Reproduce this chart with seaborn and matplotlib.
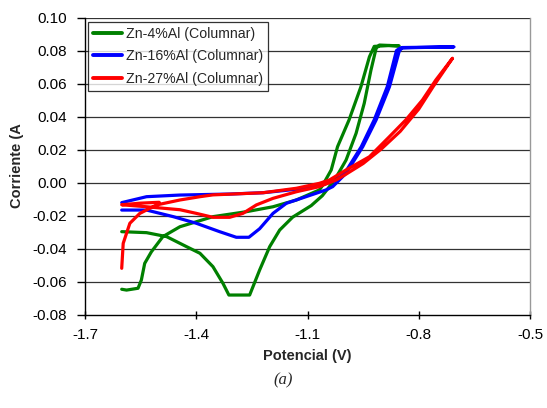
import numpy as np
import pandas as pd
import matplotlib
matplotlib.use("Agg")
import matplotlib.pyplot as plt
import seaborn as sns

labels = ["Zn-4%Al (Columnar)", "Zn-16%Al (Columnar)", "Zn-27%Al (Columnar)"]
colors = ["#008000", "#0000FF", "#FF0000"]

v_zn4 = [-1.601, -1.534, -1.48, -1.426, -1.39, -1.355, -1.328, -1.312, -1.256, -1.229, -1.202, -1.175,
         -1.14, -1.09, -1.06, -1.027, -0.996, -0.969, -0.947, -0.929, -0.915, -0.906, -0.853,
         -0.88, -0.92, -0.933, -0.956, -0.988, -1.019, -1.036, -1.06, -1.068, -1.13, -1.193, -1.265,
         -1.355, -1.40, -1.444, -1.49, -1.521, -1.539, -1.548, -1.557, -1.588, -1.601]
i_zn4 = [-0.0298, -0.0304, -0.0328, -0.0389, -0.0429, -0.051, -0.0611, -0.0682, -0.0682, -0.053, -0.0389, -0.0288,
         -0.021, -0.014, -0.008, 0.0015, 0.0136, 0.0298, 0.048, 0.068, 0.0813, 0.0833, 0.0828,
         0.0830, 0.0825, 0.0762, 0.058, 0.0379, 0.0217, 0.0076, -0.002, -0.0045, -0.0106, -0.0147, -0.0177,
         -0.0207, -0.0238, -0.0268, -0.0328, -0.042, -0.049, -0.0591, -0.0641, -0.0652, -0.0647]

v_zn16 = [-1.601, -1.534, -1.462, -1.40, -1.337, -1.292, -1.258, -1.229, -1.193, -1.157, -1.104, -1.05,
          -1.032, -0.996, -0.951, -0.915, -0.879, -0.853, -0.845, -0.705,
          -0.80, -0.85, -0.86, -0.885, -0.92, -0.955, -1.0, -1.023, -1.068, -1.13, -1.22, -1.31,
          -1.444, -1.534, -1.601]
i_zn16 = [-0.0167, -0.0167, -0.0207, -0.0247, -0.0298, -0.0332, -0.0332, -0.0280, -0.0187, -0.0126, -0.0086, -0.0045,
          -0.0025, 0.0056, 0.0217, 0.0379, 0.058, 0.0793, 0.0818, 0.0822,
          0.0818, 0.0815, 0.080, 0.058, 0.038, 0.0217, 0.0055, 0.0015, -0.0021, -0.0041, -0.0062, -0.007,
          -0.0076, -0.0086, -0.0122]

v_zn27 = [-1.601, -1.597, -1.579, -1.552, -1.507, -1.444, -1.39, -1.355, -1.22, -1.13, -1.068, -1.041,
          -0.996, -0.933, -0.879, -0.835, -0.79, -0.754, -0.709,
          -0.76, -0.80, -0.85, -0.90, -0.95, -1.0, -1.023, -1.068, -1.13, -1.193, -1.238, -1.274,
          -1.31, -1.355, -1.40, -1.444, -1.534, -1.601, -1.55, -1.50]
i_zn27 = [-0.052, -0.0369, -0.0247, -0.0187, -0.0136, -0.0106, -0.0086, -0.0075, -0.0062, -0.0035, -0.0005, 0.0015,
          0.0076, 0.0156, 0.0278, 0.0379, 0.050, 0.0621, 0.0753,
          0.0585, 0.0445, 0.031, 0.0205, 0.0115, 0.0045, 0.0015, -0.0025, -0.0056, -0.0096, -0.0136, -0.0187,
          -0.0211, -0.0211, -0.0187, -0.0165, -0.0147, -0.0135, -0.0125, -0.012]

x_ticks = [-1.7, -1.4, -1.1, -0.8, -0.5]
y_ticks = [-0.08, -0.06, -0.04, -0.02, 0.00, 0.02, 0.04, 0.06, 0.08, 0.10]

frames = []
for lab, v, i in zip(labels, [v_zn4, v_zn16, v_zn27], [i_zn4, i_zn16, i_zn27]):
    frames.append(pd.DataFrame({"Potencial": v, "Corriente": i, "Serie": lab}))
df = pd.concat(frames, ignore_index=True)

sns.set_theme(style="white")
plt.rcParams['font.family'] = ['Liberation Sans', 'DejaVu Sans']

fig = plt.figure(figsize=(5.47, 4.08), dpi=100)
ax = fig.add_axes([85/547, 1-314.5/408, (530-85)/547, (314.5-17.5)/408])

sns.lineplot(data=df, x="Potencial", y="Corriente", hue="Serie", units="Serie",
             estimator=None, sort=False, palette=colors, linewidth=2.3, ax=ax)

ax.set_xlim(-1.7, -0.5)
ax.set_ylim(-0.08, 0.10)
ax.set_xticks(x_ticks)
ax.set_xticklabels([f"{t:.1f}" for t in x_ticks])
ax.set_yticks(y_ticks)
ax.set_yticklabels([f"{t:.2f}" for t in y_ticks])
for y in y_ticks[1:]:
    ax.axhline(y, color="#333333", linewidth=0.9, zorder=0.5)

ax.spines["top"].set_visible(False)
ax.spines["right"].set_color("#999999")
ax.spines["right"].set_linewidth(1.0)
for s in ["left", "bottom"]:
    ax.spines[s].set_color("black")
    ax.spines[s].set_linewidth(1.0)

ax.tick_params(axis="x", direction="inout", length=6, width=1, colors="black", labelsize=11, pad=7)
ax.tick_params(axis="y", direction="out", length=6, width=1, colors="black", labelsize=11, pad=7)
ax.xaxis.set_ticks_position("bottom")
ax.yaxis.set_ticks_position("left")

ax.set_xlabel("Potencial (V)", fontsize=10.5, fontweight="bold", labelpad=5)
ax.set_ylabel("Corriente (A", fontsize=10.5, fontweight="bold", labelpad=6)

leg = ax.legend(loc="upper left", bbox_to_anchor=(0.006, 0.985), frameon=True, fancybox=False,
                edgecolor="black", fontsize=10.2, handlelength=2.1, handletextpad=0.25,
                borderpad=0.35, labelspacing=0.6, borderaxespad=0.0)
leg.get_frame().set_linewidth(0.9)
for line in leg.get_lines():
    line.set_linewidth(2.8)

fig.text(283/547, 1-380/408, "(a)", fontsize=12, style="italic",
         family=["Liberation Serif", "DejaVu Serif"], ha="center", va="center")

fig.savefig("out.png", dpi=100, facecolor="white")
